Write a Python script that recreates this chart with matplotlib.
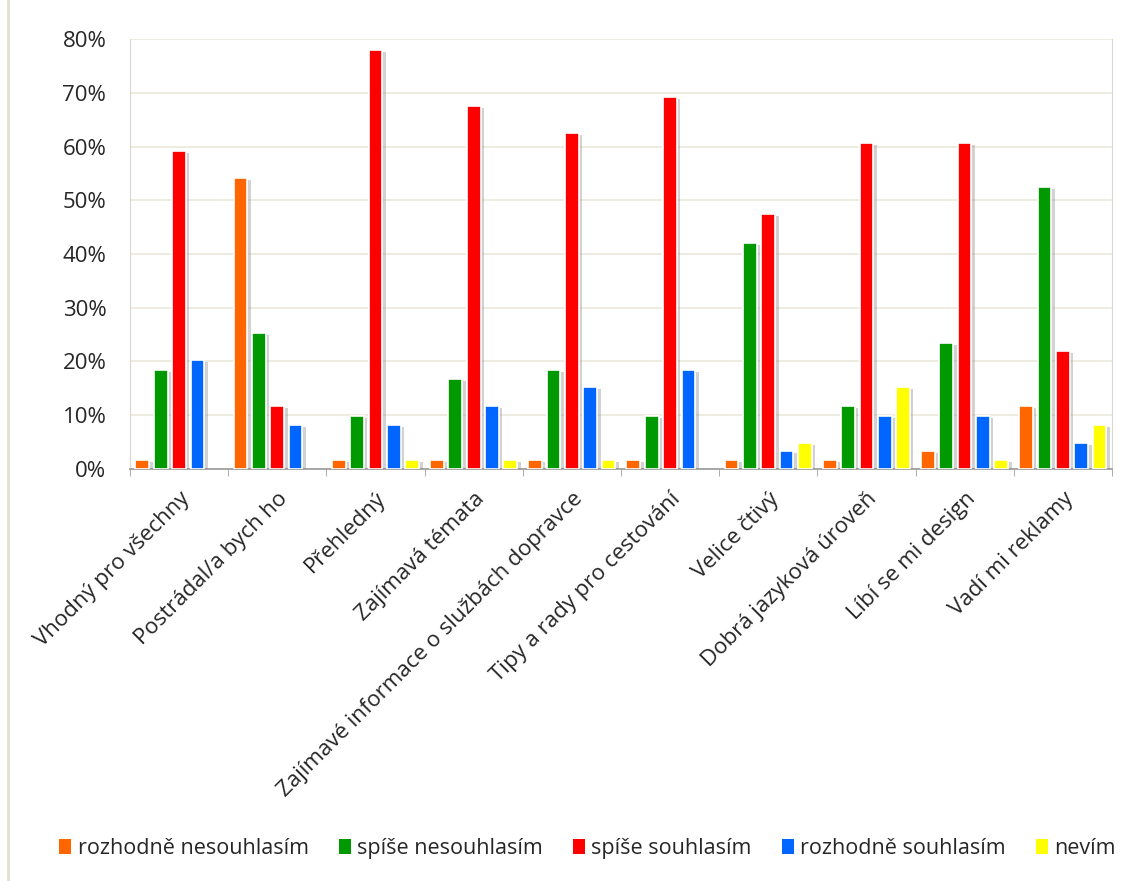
import numpy as np
import matplotlib.pyplot as plt
import matplotlib.patheffects as pe
from matplotlib.patches import Patch
from matplotlib.lines import Line2D

plt.rcParams['font.family'] = ['Open Sans', 'DejaVu Sans']

kategorie = ["Vhodný pro všechny", "Postrádal/a bych ho", "Přehledný", "Zajímavá témata",
             "Zajímavé informace o službách dopravce", "Tipy a rady pro cestování",
             "Velice čtivý", "Dobrá jazyková úroveň", "Líbí se mi design", "Vadí mi reklamy"]

rozhodne_nesouhlasim = [1.6, 54.1, 1.6, 1.6, 1.6, 1.6, 1.6, 1.6, 3.3, 11.7]
spise_nesouhlasim = [18.4, 25.3, 9.8, 16.8, 18.4, 9.8, 42.1, 11.7, 23.5, 52.5]
spise_souhlasim = [59.2, 11.7, 77.9, 67.6, 62.5, 69.3, 47.5, 60.7, 60.7, 21.9]
rozhodne_souhlasim = [20.3, 8.2, 8.2, 11.7, 15.2, 18.4, 3.3, 9.8, 9.8, 4.8]
nevim = [0, 0, 1.6, 1.6, 1.6, 0, 4.9, 15.3, 1.6, 8.2]

serie = [
    ("rozhodně nesouhlasím", rozhodne_nesouhlasim, "#ff6600"),
    ("spíše nesouhlasím", spise_nesouhlasim, "#009900"),
    ("spíše souhlasím", spise_souhlasim, "#ff0000"),
    ("rozhodně souhlasím", rozhodne_souhlasim, "#0066ff"),
    ("nevím", nevim, "#ffff00"),
]
text_barva = '#262626'

fig = plt.figure(figsize=(11.3, 8.81), dpi=100)
ax = fig.add_axes([0.115, 0.4677, 0.869, 0.488])

x = np.arange(len(kategorie))
krok = 0.187
stin = [pe.SimplePatchShadow(offset=(2.5, -1.5), shadow_rgbFace='#808080', alpha=0.35), pe.Normal()]
for i, (nazev, hodnoty, barva) in enumerate(serie):
    bars = ax.bar(x + (i - 2) * krok, np.array(hodnoty) / 100, width=0.14, color=barva,
                  edgecolor='white', linewidth=1.2, zorder=3)
    for b in bars:
        if b.get_height() > 0:
            b.set_path_effects(stin)
        else:
            b.set_visible(False)

ax.set_xlim(-0.5, len(kategorie) - 0.5)
ax.set_ylim(0, 0.8)
yt = np.arange(0, 0.81, 0.1)
ax.set_yticks(yt)
ax.set_yticklabels([f"{int(round(v * 100))}%" for v in yt], fontsize=16, color=text_barva)
ax.yaxis.grid(True, color='#ebe9dc', linewidth=1.2, zorder=0)
ax.set_axisbelow(True)

ax.set_xticks(x)
ax.set_xticklabels(kategorie, rotation=45, ha='right', rotation_mode='anchor', fontsize=16,
                   color=text_barva)
ax.tick_params(axis='x', length=0, pad=14)
ax.set_xticks(np.arange(-0.5, len(kategorie)), minor=True)
ax.tick_params(axis='x', which='minor', length=5, color='#a0a0a0')
ax.tick_params(axis='y', length=0, pad=17)

ax.spines['top'].set_visible(False)
ax.spines['left'].set_color('#d8d8d0')
ax.spines['right'].set_color('#d8d8d0')
ax.spines['bottom'].set_color('#a0a0a0')
ax.spines['bottom'].set_linewidth(1.3)

# okraj celého grafu vlevo
fig.add_artist(Line2D([8 / 1130, 8 / 1130], [0, 1], color='#e2dfd2', linewidth=2))

handles = [Patch(facecolor=barva, edgecolor='none', label=nazev) for nazev, _, barva in serie]
fig.legend(handles=handles, loc='center', bbox_to_anchor=(0.52, 0.037), ncol=5, frameon=False,
           fontsize=15.5, handlelength=0.55, handleheight=0.75, handletextpad=0.3,
           columnspacing=1.4, labelcolor=text_barva)

fig.savefig("out.png", dpi=100)
